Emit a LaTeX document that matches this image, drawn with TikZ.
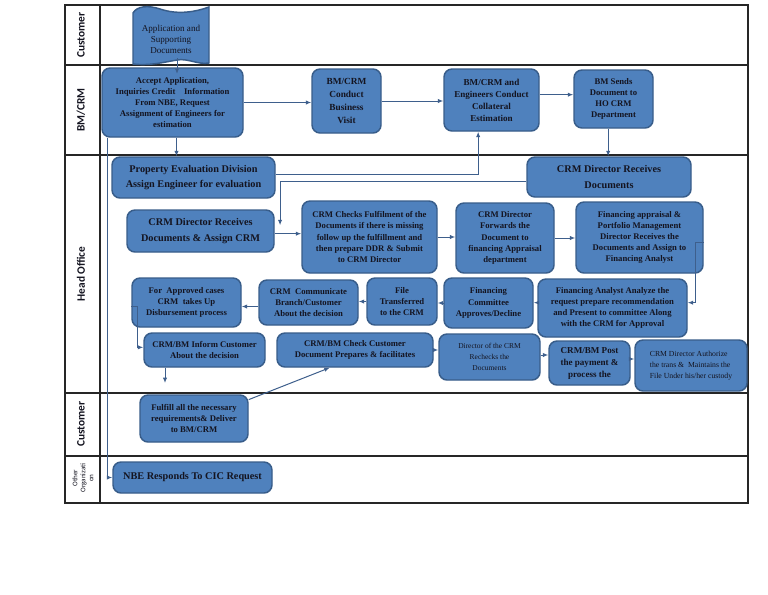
\documentclass[tikz,border=0pt]{standalone}
\usepackage{fontspec}
\setmainfont{Liberation Serif}
\newfontfamily\lanefont{Carlito}
\usetikzlibrary{arrows.meta}
\definecolor{boxfill}{HTML}{4F81BD}
\definecolor{boxdraw}{HTML}{385D8A}
\definecolor{linec}{HTML}{3E5F8C}
\definecolor{txt}{HTML}{141420}
\tikzset{
 box/.style={draw=boxdraw, fill=boxfill, line width=1.1pt, rounded corners=6pt, align=center, inner sep=1pt, text=txt, font=\fontsize{6.5}{8.4}\selectfont\bfseries},
 bigtxt/.style={font=\fontsize{7.7}{11.8}\selectfont\bfseries},
 midtxt/.style={font=\fontsize{7}{9.6}\selectfont\bfseries},
 smalltxt/.style={font=\fontsize{5.6}{8.5}\selectfont},
 authtxt/.style={font=\fontsize{5.8}{8}\selectfont, align=left},
 doctxt/.style={font=\fontsize{6.8}{8.3}\selectfont, text=txt, align=center, inner sep=0pt},
 arr/.style={draw=linec, line width=0.75pt, -{Latex[length=4pt,width=3.2pt]}},
 lane/.style={draw=black!85, line width=0.8pt},
 lanelbl/.style={rotate=90, text=txt, font=\lanefont\fontsize{8.5}{9}\selectfont\bfseries}
}
\newcommand\bx[7][]{\node[box,minimum width={(#5-#3)*0.75pt},minimum height={(#6-#4)*0.75pt},#1] (#2) at ({(#3+#5)/2},{(#4+#6)/2}) {#7};}
\begin{document}
\begin{tikzpicture}[x=0.75pt,y=-0.75pt]
\useasboundingbox (0,0) rectangle (768,594);
\fill[white] (0,0) rectangle (768,594);
% lanes
\draw[lane] (65,5) rectangle (748,503);
\draw[lane] (100,5) -- (100,503);
\foreach \yy in {65,155,393,456} \draw[lane] (65,\yy) -- (748,\yy);
\node[lanelbl] (l1) at (81,35) {Customer};
\node[lanelbl] (l2) at (81,110) {BM/CRM};
\node[lanelbl] (l3) at (81,274) {Head Office};
\node[lanelbl] (l4) at (81,424) {Customer};
\node[lanelbl, font=\lanefont\fontsize{5.3}{6}\selectfont, align=center] (l5) at (83,478) {Other\\Organizati\\on};
% document shape
\draw[draw=boxdraw, fill=boxfill, line width=1.1pt] (133,13) .. controls (137,6) and (148,5) .. (160,9) .. controls (178,15) and (195,12) .. (209,7) -- (209,63) .. controls (198,65) and (188,58) .. (177,60) .. controls (165,62) and (150,66) .. (133,64) -- cycle;
\node[doctxt] (doc) at (171,39) {Application and\\Supporting\\Documents};
% boxes
\bx{acc}{102}{68}{243}{137}{Accept Application,\\Inquiries Credit\quad Information\\From NBE, Request\\Assignment of Engineers for\\estimation}
\bx[midtxt]{bv}{312}{69}{381}{133}{BM/CRM\\Conduct\\Business\\Visit}
\bx[font=\fontsize{6.8}{9}\selectfont\bfseries]{ce}{444}{69}{539}{131}{BM/CRM and\\Engineers Conduct\\Collateral\\Estimation}
\bx{bs}{574}{70}{653}{128}{BM Sends\\Document to\\HO CRM\\Department}
\bx[bigtxt, font=\fontsize{7.7}{12.5}\selectfont\bfseries]{crd}{527}{157}{691}{197}{CRM Director Receives\\Documents}
\bx[bigtxt]{ped}{112}{157}{275}{198}{Property Evaluation Division\\Assign Engineer for evaluation}
\bx[bigtxt, font=\fontsize{7.7}{12.5}\selectfont\bfseries]{cda}{127}{210}{274}{252}{CRM Director Receives\\Documents \& Assign CRM}
\bx{cf}{302}{201}{437}{273}{CRM Checks Fulfilment of the\\Documents if there is missing\\follow up the fulfillment and\\then prepare DDR \& Submit\\to CRM Director}
\bx{fw}{456}{203}{554}{273}{CRM Director\\Forwards the\\Document to\\financing Appraisal\\department}
\bx{fa}{576}{202}{703}{273}{Financing appraisal \&\\Portfolio Management\\Director Receives the\\Documents and Assign to\\Financing Analyst}
\bx{fan}{538}{279}{687}{337}{Financing Analyst Analyze the\\request prepare recommendation\\and Present to committee Along\\with the CRM for Approval}
\bx{fc}{444}{278}{533}{328}{Financing\\Committee\\Approves/Decline}
\bx{ft}{367}{278}{437}{325}{File\\Transferred\\to the CRM}
\bx{cc}{259}{280}{358}{325}{CRM\ \ Communicate\\Branch/Customer\\About the decision}
\bx{ap}{132}{278}{241}{327}{For\ \ Approved cases\\CRM\ \ takes Up\\Disbursement process}
\bx{inf}{144}{333}{265}{367}{CRM/BM Inform Customer\\About the decision}
\bx{chk}{277}{333}{433}{367}{CRM/BM Check Customer\\Document Prepares \& facilitates}
\bx[smalltxt]{dr}{439}{334}{540}{380}{Director of the CRM\\Rechecks the\\Documents}
\bx[font=\fontsize{6.8}{9}\selectfont\bfseries]{pp}{549}{341}{630}{385}{CRM/BM Post\\the payment \&\\process the}
\bx[authtxt]{au}{635}{340}{747}{391}{CRM Director Authorize\\the trans \&\ \ Maintains the\\File Under his/her custody}
\bx{ful}{140}{395}{248}{442}{Fulfill all the necessary\\requirements\& Deliver\\to BM/CRM}
\bx[bigtxt]{nbe}{113}{462}{272}{493}{NBE Responds To CIC Request}
% connectors
\coordinate (docb) at (177,58);
\draw[arr] (docb) -- ([yshift=-5pt]acc.north -| docb);
\draw[arr] (acc.east) -- (acc.east -| bv.west);
\draw[arr] (bv.east) -- (bv.east -| ce.west);
\draw[arr] ([yshift=4pt]ce.east) -- ([yshift=4pt]ce.east -| bs.west);
\draw[arr] ([xshift=-4pt]bs.south) -- ([xshift=-4pt]bs.south |- crd.north);
\draw[arr] ([xshift=3pt]acc.south) -- ([xshift=3pt]acc.south |- ped.north);
\draw[arr] ([yshift=2pt]ped.east) -| ([xshift=-10pt]ce.south);
\draw[arr] ([yshift=-3pt]crd.west) -| ([xshift=4pt,yshift=-12pt]cda.north east);
\draw[arr] ([yshift=-2pt]cda.east) -- ([yshift=-2pt]cda.east -| cf.west);
\draw[arr] (cf.east) -- (cf.east -| fw.west);
\draw[arr] (fw.east) -- (fw.east -| fa.west);
\draw[arr] ([yshift=-4pt]fa.east) -- ++(-8,0) |- ([yshift=4pt]fan.east);
\draw[arr] ([yshift=4pt]fan.west) -- ([yshift=4pt]fan.west -| fc.east);
\draw[arr] (fc.west) -- (fc.west -| ft.east);
\draw[arr] (ft.west) -- (ft.west -| cc.east);
\draw[arr] ([yshift=-3pt]cc.west) -- ([yshift=-3pt]cc.west -| ap.east);
\draw[arr] ([yshift=-3pt]ap.west) -- ++(6,0) |- ([yshift=2pt]inf.west);
\coordinate (infd) at (165,383);
\draw[arr] (inf.south -| infd) -- (infd);
\draw[arr] ([yshift=-4pt]ful.north east) -- ([xshift=-19pt]chk.south);
\draw[arr] (chk.east) -- (chk.east -| dr.west);
\draw[arr] ([yshift=1.5pt]dr.east) -- ([yshift=1.5pt]dr.east -| pp.west);
\draw[arr] ([yshift=3pt]pp.east) -- ([yshift=3pt]pp.east -| au.west);
\draw[arr] ([xshift=4.5pt]acc.south west) |- (nbe.west);
\end{tikzpicture}
\end{document}
